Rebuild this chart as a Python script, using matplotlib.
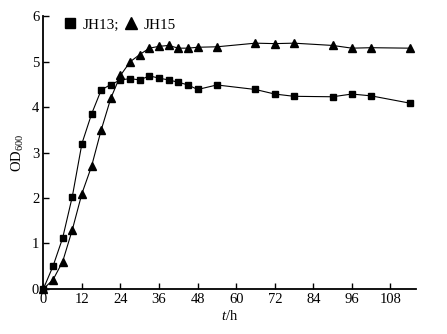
import matplotlib
matplotlib.use("Agg")
import matplotlib.pyplot as plt
from matplotlib.lines import Line2D

plt.rcParams['font.family'] = ['Liberation Serif', 'DejaVu Serif']
plt.rcParams['mathtext.fontset'] = 'custom'
plt.rcParams['mathtext.rm'] = 'Liberation Serif'
plt.rcParams['mathtext.it'] = 'Liberation Serif:italic'

# sampling times (h)
t_jh13 = [0, 3, 6, 9, 12, 15, 18, 21, 24, 27, 30, 33, 36, 39, 42, 45, 48, 54, 66, 72, 78, 90, 96, 102, 114]
od_jh13 = [0, 0.5, 1.12, 2.03, 3.2, 3.85, 4.38, 4.5, 4.6, 4.63, 4.6, 4.69, 4.64, 4.6, 4.55,
           4.49, 4.39, 4.49, 4.39, 4.29, 4.24, 4.23, 4.29, 4.25, 4.09]
t_jh15 = [0, 3, 6, 9, 12, 15, 18, 21, 24, 27, 30, 33, 36, 39, 42, 45, 48, 54, 66, 72, 78, 90, 96, 102, 114]
od_jh15 = [0, 0.2, 0.6, 1.3, 2.1, 2.7, 3.5, 4.2, 4.7, 5.0, 5.16, 5.3, 5.34, 5.36, 5.3,
           5.3, 5.32, 5.33, 5.41, 5.4, 5.41, 5.36, 5.3, 5.31, 5.3]
xticks = [0, 12, 24, 36, 48, 60, 72, 84, 96, 108]
yticks = [0, 1, 2, 3, 4, 5, 6]

fig = plt.figure(figsize=(4.47, 3.34), dpi=100)
ax = fig.add_axes([0.097, 0.135, 0.834, 0.816])

ax.plot(t_jh13, od_jh13, color='black', lw=0.8, marker='s', ms=4.8, clip_on=False, zorder=3)
ax.plot(t_jh15, od_jh15, color='black', lw=0.8, marker='^', ms=5.8, clip_on=False, zorder=3)

ax.set_xlim(0, 116)
ax.set_ylim(0, 6)
ax.set_xticks(xticks)
ax.set_yticks(yticks)
for s in ['top', 'right']:
    ax.spines[s].set_visible(False)
for s in ['left', 'bottom']:
    ax.spines[s].set_linewidth(1.3)
ax.tick_params(direction='in', length=4, width=1, labelsize=10.5, pad=3)

ax.set_xlabel('$t$/h', fontsize=10.5, labelpad=2)
ax.set_ylabel('OD$_{600}$', fontsize=10.5, labelpad=4)

handles = [Line2D([], [], color='black', marker='s', ls='none', ms=7.5),
           Line2D([], [], color='black', marker='^', ls='none', ms=8.5)]
ax.legend(handles, ['JH13;', 'JH15'], loc='upper left', bbox_to_anchor=(0.014, 1.045),
          ncol=2, frameon=False, fontsize=11, handletextpad=0.3, columnspacing=0.3,
          handlelength=1.0)

fig.savefig('out.png', dpi=100)
